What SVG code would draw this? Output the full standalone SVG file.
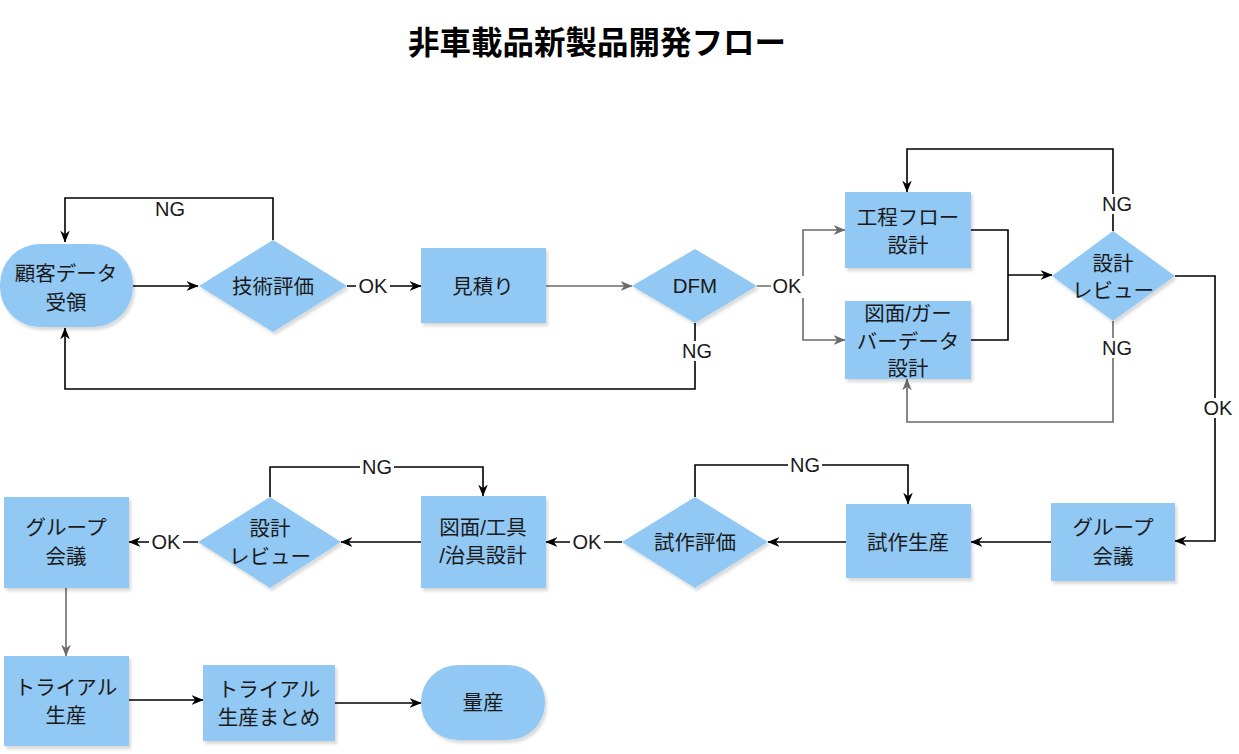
<svg xmlns="http://www.w3.org/2000/svg" width="1239" height="754" viewBox="0 0 1239 754">
<style>
text{font-family:"Liberation Sans","Noto Sans CJK JP",sans-serif;fill:#1a1a1a;text-anchor:middle}
.t{font-size:20.5px}
.lb{font-size:20px}
.title{font-size:31.5px;font-weight:bold;fill:#000}
.n{fill:#91C8F4;filter:url(#sh)}
.e{fill:none;stroke:#000;stroke-width:1.6}
.g{fill:none;stroke:#6b6b6b;stroke-width:1.6}
.bg{fill:#fff}
</style>
<defs>
<filter id="sh" x="-10%" y="-10%" width="130%" height="130%">
<feDropShadow dx="2" dy="3" stdDeviation="1.5" flood-color="#000" flood-opacity="0.15"/>
</filter>
<marker id="ab" viewBox="0 0 10 10" refX="9.5" refY="5" markerWidth="12" markerHeight="12" markerUnits="userSpaceOnUse" orient="auto"><path d="M0,1 L10,5 L0,9 L3,5 z" fill="#000"/></marker>
<marker id="ag" viewBox="0 0 10 10" refX="9.5" refY="5" markerWidth="12" markerHeight="12" markerUnits="userSpaceOnUse" orient="auto"><path d="M0,1 L10,5 L0,9 L3,5 z" fill="#6b6b6b"/></marker>
</defs>
<rect width="1239" height="754" fill="#fff"/>
<text class="title" x="597" y="54">非車載品新製品開発フロー</text>

<g id="connectors">
<path class="e" d="M273,240 V198 H65 V242" marker-end="url(#ab)"/>
<path class="e" d="M133,286 H198" marker-end="url(#ab)"/>
<path class="e" d="M347,286 H421" marker-end="url(#ab)"/>
<path class="g" d="M546,286 H632" marker-end="url(#ag)"/>
<path class="g" d="M757,286 H803"/>
<path class="g" d="M803,286 V230 H845" marker-end="url(#ag)"/>
<path class="g" d="M803,286 V340 H845" marker-end="url(#ag)"/>
<path class="e" d="M695,323 V389 H65 V328" marker-end="url(#ab)"/>
<path class="e" d="M971,230 H1008 V340 H971"/>
<path class="e" d="M1008,275 H1052" marker-end="url(#ab)"/>
<path class="e" d="M1113,231 V149 H907 V192" marker-end="url(#ab)"/>
<path class="g" d="M1113,321 V422 H907 V379" marker-end="url(#ag)"/>
<path class="e" d="M1175,276 H1215 V541 H1175" marker-end="url(#ab)"/>
<path class="e" d="M1051,542 H971" marker-end="url(#ab)"/>
<path class="e" d="M846,542 H768" marker-end="url(#ab)"/>
<path class="e" d="M695,497 V465 H908 V504" marker-end="url(#ab)"/>
<path class="e" d="M622,542 H546" marker-end="url(#ab)"/>
<path class="e" d="M421,542 H341" marker-end="url(#ab)"/>
<path class="e" d="M270,497 V467 H483 V496" marker-end="url(#ab)"/>
<path class="e" d="M198,542 H129" marker-end="url(#ab)"/>
<path class="g" d="M66,588 V656" marker-end="url(#ag)"/>
<path class="e" d="M129,700 H203" marker-end="url(#ab)"/>
<path class="e" d="M335,703 H421" marker-end="url(#ab)"/>
<g id="labels">
<rect class="bg" x="153" y="199" width="34" height="20"/><text class="lb" x="170" y="216">NG</text>
<rect class="bg" x="356" y="276" width="34" height="20"/><text class="lb" x="373" y="293">OK</text>
<rect class="bg" x="771" y="276" width="33" height="22"/><text class="lb" x="787" y="293">OK</text>
<rect class="bg" x="680" y="341" width="34" height="20"/><text class="lb" x="697" y="358">NG</text>
<rect class="bg" x="1100" y="194" width="34" height="20"/><text class="lb" x="1117" y="211">NG</text>
<rect class="bg" x="1100" y="338" width="34" height="20"/><text class="lb" x="1117" y="355">NG</text>
<rect class="bg" x="1202" y="398" width="34" height="20"/><text class="lb" x="1218" y="415">OK</text>
<rect class="bg" x="788" y="455" width="34" height="20"/><text class="lb" x="805" y="472">NG</text>
<rect class="bg" x="570" y="532" width="34" height="20"/><text class="lb" x="587" y="549">OK</text>
<rect class="bg" x="360" y="457" width="34" height="20"/><text class="lb" x="377" y="474">NG</text>
<rect class="bg" x="149" y="532" width="34" height="20"/><text class="lb" x="166" y="549">OK</text>
</g>
</g>

<g id="n1"><rect class="n" x="0" y="244" width="133" height="83" rx="40"/><text class="t" x="66" y="281">顧客データ</text><text class="t" x="66" y="310">受領</text></g>
<g id="n2"><polygon class="n" points="199,286 273,240 347,286 273,332"/><text class="t" x="273" y="294">技術評価</text></g>
<g id="n3"><rect class="n" x="421" y="248" width="125" height="75"/><text class="t" x="483" y="294">見積り</text></g>
<g id="n4"><polygon class="n" points="632,286 695,249 757,286 695,323"/><text class="t" x="695" y="293">DFM</text></g>
<g id="n5"><rect class="n" x="845" y="192" width="126" height="76"/><text class="t" x="908" y="225">工程フロー</text><text class="t" x="908" y="253">設計</text></g>
<g id="n6"><rect class="n" x="845" y="301" width="126" height="78"/><text class="t" x="908" y="321">図面/ガー</text><text class="t" x="908" y="349">バーデータ</text><text class="t" x="908" y="376">設計</text></g>
<g id="n7"><polygon class="n" points="1052,276 1113,231 1175,276 1113,321"/><text class="t" x="1113" y="271">設計</text><text class="t" x="1113" y="298">レビュー</text></g>
<g id="n8"><rect class="n" x="1051" y="503" width="124" height="78"/><text class="t" x="1113" y="535">グループ</text><text class="t" x="1113" y="564">会議</text></g>
<g id="n9"><rect class="n" x="846" y="504" width="125" height="74"/><text class="t" x="908" y="550">試作生産</text></g>
<g id="n10"><polygon class="n" points="622,542 695,497 768,542 695,588"/><text class="t" x="695" y="550">試作評価</text></g>
<g id="n11"><rect class="n" x="421" y="496" width="125" height="92"/><text class="t" x="483" y="535">図面/工具</text><text class="t" x="483" y="563">/治具設計</text></g>
<g id="n12"><polygon class="n" points="198,542 270,497 341,542 270,588"/><text class="t" x="270" y="536">設計</text><text class="t" x="270" y="564">レビュー</text></g>
<g id="n13"><rect class="n" x="4" y="497" width="125" height="91"/><text class="t" x="66" y="535">グループ</text><text class="t" x="66" y="564">会議</text></g>
<g id="n14"><rect class="n" x="4" y="656" width="125" height="90"/><text class="t" x="66" y="695">トライアル</text><text class="t" x="66" y="723">生産</text></g>
<g id="n15"><rect class="n" x="203" y="665" width="132" height="76"/><text class="t" x="269" y="697">トライアル</text><text class="t" x="269" y="725">生産まとめ</text></g>
<g id="n16"><rect class="n" x="421" y="665" width="124" height="75" rx="37"/><text class="t" x="483" y="710">量産</text></g>
</svg>
